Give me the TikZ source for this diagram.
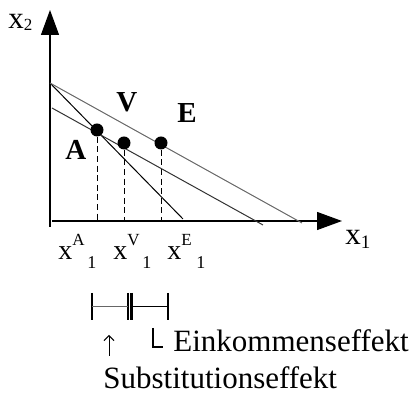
\documentclass[tikz,border=0pt]{standalone}
\usepackage{fontspec}
\setmainfont{Liberation Serif}
\usetikzlibrary{arrows.meta}

\newcommand{\xlab}[1]{x\rlap{\raisebox{7pt}{\fontsize{8.5}{9}\selectfont #1}}\hspace{7.5pt}\raisebox{-4.5pt}{\fontsize{9}{9}\selectfont 1}}

\begin{document}
\begin{tikzpicture}[x=0.5pt, y=-0.5pt, font=\fontsize{15.5}{18}\selectfont,
  axis/.style={line width=0.6pt, -{Triangle[length=12.5pt, width=9pt]}},
  budget/.style={line width=0.5pt},
  dot/.style={circle, fill, inner sep=0pt, minimum size=6.5pt},
  drop/.style={dash pattern=on 3pt off 1.8pt, line width=0.5pt},
  lbl/.style={anchor=base west, inner sep=0pt},
  bold/.style={lbl, font=\fontsize{14.5}{16}\selectfont\bfseries},
  tickbar/.style={line width=1.4pt}]
  \useasboundingbox (0,0) rectangle (413,394);

  % axes
  \coordinate (o) at (50,221);
  \draw[axis] (50,227) -- (50,10);
  \draw[axis] (52,221) -- (342,221);
  \node[lbl] (x2) at (8,29) {x\raisebox{-1pt}{\fontsize{8.5}{9}\selectfont 2}};
  \node[lbl] (x1) at (345,245) {x\raisebox{-2pt}{\fontsize{9.5}{10}\selectfont 1}};

  % budget lines
  \draw[budget] (50,83) -- (183,219);
  \draw[budget, black!80] (52,108) -- (263,225);
  \draw[budget, black!60] (50,83) -- (302,223);

  % optima
  \node[dot] (A) at (97,130) {};
  \node[dot] (V) at (124,143) {};
  \node[dot] (E) at (161,143) {};
  \draw[drop] (A) -- (A |- o);
  \draw[drop] (V) -- (V |- o);
  \draw[drop] (E) -- (E |- o);
  \node[bold] (la) at (65,160) {A};
  \node[bold] (lv) at (116,112) {V};
  \node[bold] (le) at (177,123) {E};

  % quantities
  \node[lbl, font=\fontsize{14}{16}\selectfont] (xa) at (58,260) {\xlab{A}};
  \node[lbl, font=\fontsize{14}{16}\selectfont] (xv) at (113,260) {\xlab{V}};
  \node[lbl, font=\fontsize{14}{16}\selectfont] (xe) at (167,260) {\xlab{E}};

  % effects
  \draw[tickbar] (92,293) -- (92,320);
  \draw[tickbar] (128,293) -- (128,320);
  \draw[tickbar] (131.5,293) -- (131.5,320);
  \draw[tickbar] (168,293) -- (168,320);
  \draw[line width=0.5pt, black!60] (92,307) -- (128,307);
  \draw[line width=0.5pt] (131.5,307) -- (168,307);
  \draw[line width=0.9pt] (153,328) -- (153,347) -- (163,347);
  \draw[line width=0.5pt, -{Straight Barb[length=2.5pt, width=5pt]}] (109,356) -- (109,335);
  \node[lbl] (ein) at (173,352) {Einkommenseffekt};
  \node[lbl] (sub) at (103,389) {Substitutionseffekt};
\end{tikzpicture}
\end{document}
